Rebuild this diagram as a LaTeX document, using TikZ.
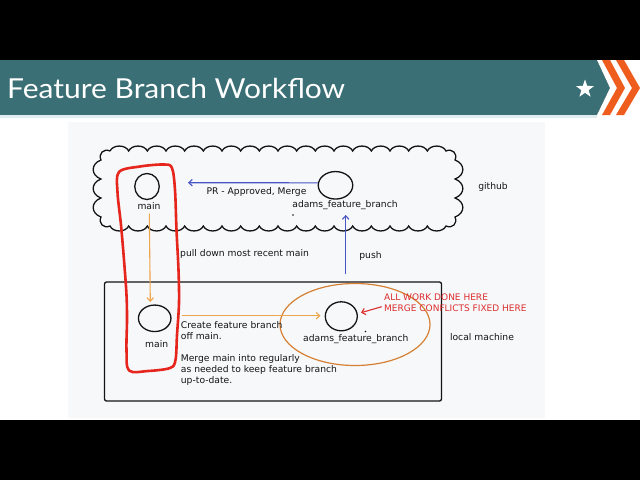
\documentclass[tikz,border=0pt]{standalone}
\usepackage{fontspec}
\setmainfont{DejaVu Sans}
\newfontfamily\titlefont{Lato}
\usetikzlibrary{arrows.meta,shapes.geometric}
\definecolor{teal}{RGB}{58,111,117}
\definecolor{chev}{RGB}{238,92,30}
\definecolor{board}{RGB}{247,248,250}
\definecolor{ink}{RGB}{20,20,20}
\definecolor{bluearr}{RGB}{70,85,195}
\definecolor{orarr}{RGB}{238,165,75}
\definecolor{orell}{RGB}{214,128,52}
\definecolor{redtxt}{RGB}{220,45,45}
\definecolor{redhl}{RGB}{230,38,28}
\definecolor{bannerline}{RGB}{225,236,240}
\tikzset{
  lbl/.style={inner sep=0pt, font=\fontsize{9.2}{11}\selectfont, text=ink},
  redlbl/.style={inner sep=0pt, font=\fontsize{9}{10.7}\selectfont, text=redtxt, align=left},
  bubble/.style={draw=ink, line width=1.3pt, ellipse, inner sep=0pt},
  outline/.style={draw=ink, line width=1.3pt},
  arr/.style={line width=1.1pt, -{Straight Barb[length=3.5pt,width=6.5pt]}},
}
\begin{document}
\begin{tikzpicture}[x=1pt,y=-1pt]
\useasboundingbox (0,0) rectangle (640,480);
\fill[black] (0,0) rectangle (640,480);
% slide body
\fill[white] (0,115) rectangle (640,420);
\fill[board] (68,122) rectangle (545,418);
% banner
\fill[teal] (0,60) -- (597,60) -- (610,88) -- (597,115) -- (0,115) -- cycle;
\fill[white] (597,60) -- (640,60) -- (640,115) -- (597,115) -- (610,88) -- cycle;
\fill[chev] (602,60) -- (610,60) -- (625,88) -- (610,115) -- (602,115) -- (617,88) -- cycle;
\fill[chev] (616,60) -- (624,60) -- (640,88) -- (624,115) -- (616,115) -- (632,88) -- cycle;
\fill[bannerline] (0,115) rectangle (597,117.5);
\node[star, star points=5, star point ratio=2.5, fill=white, inner sep=0pt, minimum size=19pt] (star) at (585,89) {};
\node[anchor=base west, inner sep=0pt, text=white, font=\titlefont\fontsize{27.5}{30}\selectfont] (title) at (7,98) {\scalebox{1.09}[1]{Feature Branch Workflow}};
% cloud (github)
\draw[outline] (110,151)
  \foreach \i in {1,...,18} { to[bend left=65] ++(18.667,0) }
  to[bend left=70, looseness=1.4] ++(9,9)
  \foreach \i in {1,2,3} { to[bend left=70, looseness=1.5] ++(0,19) }
  to[bend left=70, looseness=1.4] ++(-9,9)
  \foreach \i in {1,...,18} { to[bend left=65] ++(-18.667,0) }
  to[bend left=70, looseness=1.4] ++(-9,-9)
  \foreach \i in {1,2,3} { to[bend left=70, looseness=1.5] ++(0,-19) }
  to[bend left=70, looseness=1.4] ++(9,-9);
% local machine box
\draw[outline, rounded corners=2pt] (104.5,282) rectangle (441.5,401);
% orange ellipse
\draw[orell, line width=1.2pt] (355,324.5) ellipse [x radius=75, y radius=41];
% nodes
\node[bubble, minimum width=24.5pt, minimum height=26pt] (ghmain) at (147,186.5) {};
\node[lbl] (ghmainlbl) at (149,206.5) {main};
\node[bubble, minimum width=34.5pt, minimum height=27.5pt] (ghadams) at (335.5,185.3) {};
\node[lbl] (ghadamslbl) at (345,205) {adams\_feature\_branch};
\node[bubble, minimum width=32.5pt, minimum height=26.5pt] (lomain) at (154.7,318.3) {};
\node[lbl] (lomainlbl) at (156.7,344) {main};
\node[bubble, minimum width=32pt, minimum height=29pt] (loadams) at (341.3,316.3) {};
\node[lbl] (loadamslbl) at (355.8,339.3) {adams\_feature\_branch};
\node[lbl] (github) at (493,187) {github};
\node[lbl] (local) at (482,336.7) {local machine};
\node[lbl] (prlbl) at (256.5,192) {PR - Approved, Merge};
\node[lbl, anchor=west] (pulllbl) at (180,254) {pull down most recent main};
\node[lbl] (pushlbl) at (370.5,256) {push};
\node[lbl, anchor=north west, align=left] (createlbl) at (180.7,321) {Create feature branch\\off main.};
\node[lbl, anchor=north west, align=left] (mergelbl) at (180.7,354.5) {Merge main into regularly\\as needed to keep feature branch\\up-to-date.};
\node[redlbl, anchor=north west] (redlbl) at (384,294) {ALL WORK DONE HERE\\MERGE CONFLICTS FIXED HERE};
% connector end points
\coordinate (prend) at (188,182.7);
\coordinate (pullend) at (150.3,302);
\coordinate (createend) at (320.5,315.7);
\coordinate (pushstart) at (345.7,274);
\coordinate (pushend) at (345.7,215);
\coordinate (redstart) at (381.7,306.7);
\coordinate (redend) at (361,312.7);
% connectors
\draw[arr, bluearr] (ghadams.172) -- (prend);
\draw[arr, orarr] (149.3,213.5) -- (pullend);
\draw[arr, orarr] (181.7,315.7) -- (createend);
\draw[arr, bluearr] (pushstart) -- (pushend);
\draw[arr, redtxt] (redstart) -- (redend);
% stray marks
\fill[ink] (293,215) circle (0.8);
\fill[ink] (365.5,331.5) circle (0.9);
% red highlight
\draw[redhl, line width=2.6pt, line join=round] plot[smooth cycle, tension=0.55] coordinates {
  (119,172) (140,166.5) (164,164.5) (172,168) (175,190) (176.5,230) (178.5,270) (179,303)
  (177,335) (175.5,360) (170,368) (148,371) (129,370.5) (126.5,350) (127,320) (126.5,295)
  (124,260) (121,225) (117.5,192)};
\end{tikzpicture}
\end{document}
